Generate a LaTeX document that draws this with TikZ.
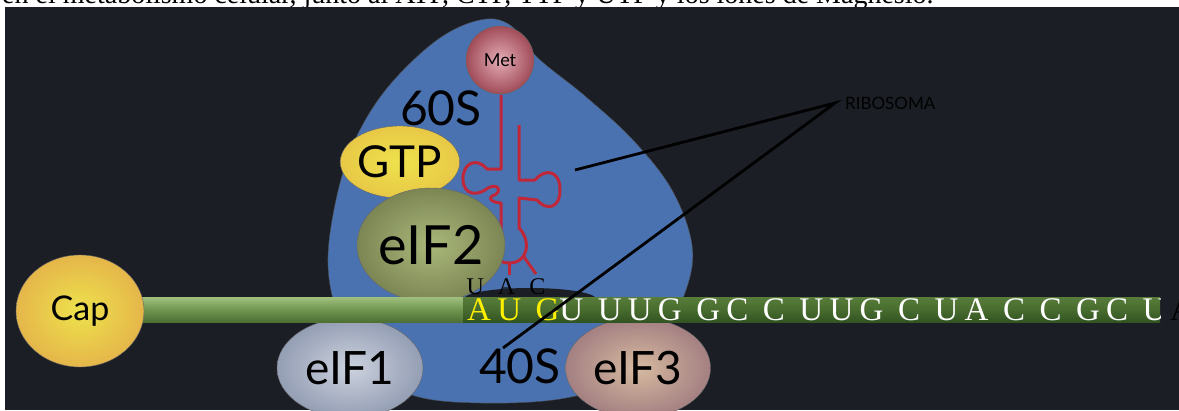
\documentclass[tikz,border=0pt]{standalone}
\usepackage{fontspec}
\setmainfont{Liberation Serif}
\setsansfont{Lato}
\usetikzlibrary{shapes.geometric}

\definecolor{bgdark}{RGB}{27,31,37}
\definecolor{ribblue}{RGB}{74,114,176}
\definecolor{trna}{RGB}{192,40,58}
\definecolor{capin}{RGB}{238,226,76}
\definecolor{capout}{RGB}{229,182,74}
\definecolor{codon}{RGB}{255,240,0}

\tikzset{
  factor/.style={ellipse, draw=black!60, line width=0.4pt, inner sep=0pt,
    font=\sffamily\fontsize{46}{46}\selectfont},
  big/.style={inner sep=0pt, font=\sffamily\fontsize{48}{48}\selectfont},
  trnaline/.style={draw=trna, line width=3pt, line join=round},
  pointer/.style={draw=black, line width=2.8pt},
}

\begin{document}
\begin{tikzpicture}[x=1pt,y=-1pt]
  \useasboundingbox (0,0) rectangle (1179,410);
  \fill[white] (0,0) rectangle (1179,410);
  \node[anchor=base west, inner sep=0pt, font=\fontsize{28}{28}\selectfont] (caption) at (2,3)
    {en el metabolismo celular, junto al ATP, CTP, TTP y UTP y los iones de Magnesio.};
  \fill[bgdark] (5,7) rectangle (1179,410);

  % ribosome body
  \filldraw[fill=ribblue, draw=black!70, line width=0.4pt]
    plot[smooth cycle, tension=0.6] coordinates {
      (480,20) (510,25) (538,58) (585,96) (633,140) (672,190) (692,245)
      (686,290) (660,340) (620,380) (560,399) (480,403) (415,396) (370,370)
      (340,320) (328,265) (336,200) (355,140) (388,87) (437,40)};

  % tRNA
  \draw[trnaline] (501,95) -- (501,169) -- (487,169)
    .. controls (476,156) and (462,164) .. (463,180)
    .. controls (464,196) and (478,196) .. (488,188)
    .. controls (499,182) and (503,193) .. (492,196)
    .. controls (487,199) and (494,203) .. (501,203) -- (501,230)
    .. controls (489,240) and (490,263) .. (509,263)
    .. controls (529,263) and (531,240) .. (519,228) -- (519,198) -- (537,200)
    .. controls (545,210) and (560,210) .. (560,190)
    .. controls (560,170) and (545,168) .. (535,180) -- (519,180) -- (519,125);
  \draw[trnaline] (498,257) -- (483,272);
  \draw[trnaline] (509,263) -- (509,275);
  \draw[trnaline] (524,257) -- (536,274);

  \node[circle, draw=black!60, line width=0.4pt, minimum size=68pt, inner sep=0pt,
    inner color={rgb,255:red,228;green,172;blue,182}, outer color={rgb,255:red,160;green,76;blue,88},
    font=\sffamily\fontsize{18}{18}\selectfont] (met) at (500,60) {Met};

  \node[big] (sixty) at (441,108) {60S};

  \node[factor, minimum width=116pt, minimum height=72pt, font=\sffamily\fontsize{44}{44}\selectfont,
    inner color=capin, outer color={rgb,255:red,232;green,200;blue,70}] (gtp) at (400,162) {GTP};
  \node[factor, minimum width=146pt, minimum height=114pt, font=\sffamily\fontsize{54}{54}\selectfont,
    inner color={rgb,255:red,170;green,184;blue,122}, outer color={rgb,255:red,124;green,134;blue,84}]
    (eif2) at (431,245) {eIF2};

  % anticodon
  \fill[bgdark] (530,299) ellipse (66 and 11);
  \node[font=\fontsize{24}{24}\selectfont, anchor=base, inner sep=0pt] (anti) at (506,294)
    {U\hspace{14pt}A\hspace{14pt}C};

  \node[factor, minimum width=146pt, minimum height=100pt,
    inner color={rgb,255:red,204;green,210;blue,222}, outer color={rgb,255:red,148;green,158;blue,180}]
    (eif1) at (350,368) {eIF1};
  \node[factor, minimum width=145pt, minimum height=100pt,
    inner color={rgb,255:red,214;green,186;blue,160}, outer color={rgb,255:red,164;green,128;blue,130}]
    (eif3) at (638,368) {eIF3};

  % mRNA
  \shade[top color={rgb,255:red,160;green,192;blue,126}, bottom color={rgb,255:red,78;green,112;blue,52},
    middle color={rgb,255:red,112;green,150;blue,80}] (140,297) rectangle (463,322);
  \shade[top color={rgb,255:red,88;green,124;blue,58}, bottom color={rgb,255:red,50;green,84;blue,34},
    middle color={rgb,255:red,72;green,108;blue,46}] (463,297) rectangle (1160,322);
  \begin{scope}
    \clip (463,297) rectangle (1160,322);
    \node[anchor=base west, inner sep=0pt, text=white,
      font=\fontsize{33}{33}\selectfont\addfontfeature{LetterSpace=19}] (seq) at (467,320)
      {\textcolor{codon}{AU G}U UUG GC C UUG C UA C C GC U};
  \end{scope}
  \node[anchor=base west, inner sep=0pt, text=black, font=\fontsize{32}{32}\selectfont] (tail) at (1170,320) {A};

  \node[factor, minimum width=128pt, minimum height=112pt, font=\sffamily\fontsize{34}{34}\selectfont,
    inner color=capin, outer color=capout] (cap) at (80,311) {Cap};

  \node[big] (forty) at (520,366) {40S};

  % label
  \node[anchor=west, inner ysep=0pt, inner xsep=10pt, text=black,
    font=\sffamily\fontsize{17}{17}\selectfont] (rib) at (835,103) {RIBOSOMA};
  \coordinate (tipa) at (575,170);
  \coordinate (tipb) at (503,348);
  \draw[pointer] (tipa) -- (rib.west) -- (tipb);
\end{tikzpicture}
\end{document}
